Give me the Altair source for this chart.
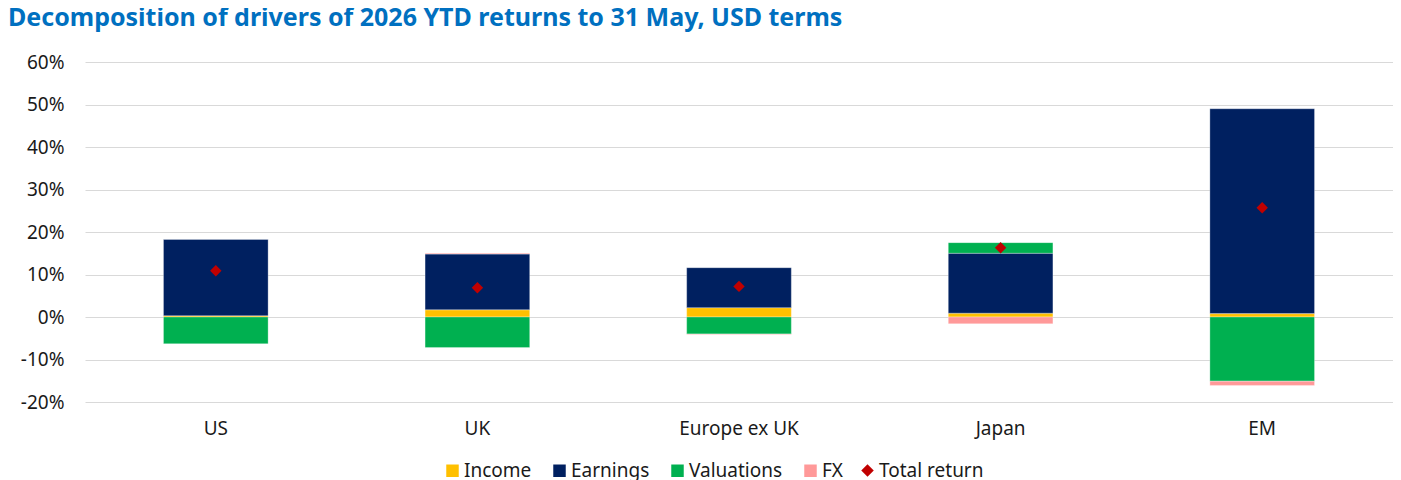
import altair as alt
import pandas as pd

regions = ["US", "UK", "Europe ex UK", "Japan", "EM"]
components = ["Income", "Earnings", "Valuations", "FX"]
income = [0.3, 1.7, 2.2, 0.9, 0.8]
earnings = [18.0, 13.1, 9.4, 14.1, 48.2]
valuations = [-6.3, -7.2, -4.0, 2.5, -15.1]
fx = [0.0, 0.2, -0.1, -1.6, -1.0]
total_return = [10.9, 6.9, 7.2, 16.3, 25.7]

colors = ["#ffc000", "#002060", "#00b050", "#ff9999"]
total_color = "#c00000"

rows = []
for i, region in enumerate(regions):
    for j, (name, vals) in enumerate(zip(components, [income, earnings, valuations, fx])):
        rows.append({"region": region, "component": name, "value": vals[i], "idx": j})
bars_df = pd.DataFrame(rows)
total_df = pd.DataFrame({"region": regions, "component": "Total return", "value": total_return})

font = "Noto Sans"
text_color = "#1a1a1a"
legend_style = dict(
    title=None,
    orient="none",
    legendY=399,
    direction="horizontal",
    symbolSize=156,
    symbolStrokeWidth=0,
    labelFontSize=19,
    labelFont=font,
    labelColor=text_color,
    labelOffset=2,
    columnPadding=18,
)

x = alt.X(
    "region:N",
    sort=regions,
    title=None,
    scale=alt.Scale(paddingInner=0.6, paddingOuter=0.3),
    axis=alt.Axis(labelAngle=0, ticks=False, domain=False, labelFontSize=19, labelFont=font,
                  labelColor=text_color, labelPadding=17),
)

y_scale = alt.Scale(domain=[-20, 60], nice=False)
y_axis = alt.Axis(values=list(range(-20, 61, 10)), labelExpr="datum.value + '%'", ticks=False,
                  domain=False, gridColor="#d9d9d9", gridWidth=1.2, labelFontSize=19, labelFont=font,
                  labelColor=text_color, labelPadding=21)

bars = (
    alt.Chart(bars_df)
    .mark_bar(stroke="#ffffff", strokeWidth=0.6, strokeOpacity=0.5)
    .encode(
        x=x,
        y=alt.Y("value:Q", stack="zero", title=None, scale=y_scale, axis=y_axis),
        color=alt.Color("component:N", scale=alt.Scale(domain=components, range=colors),
                        legend=alt.Legend(legendX=358, symbolType="square", **legend_style)),
        order=alt.Order("idx:Q"),
    )
)

points = (
    alt.Chart(total_df)
    .mark_point(filled=True, size=130, opacity=1, color=total_color)
    .encode(
        x=x,
        y=alt.Y("value:Q", title=None, scale=y_scale, axis=y_axis),
        shape=alt.Shape("component:N", scale=alt.Scale(domain=["Total return"], range=["diamond"]),
                        legend=alt.Legend(legendX=773, symbolFillColor=total_color, **legend_style)),
    )
)

chart = (
    (bars + points)
    .properties(
        width=1308,
        height=340,
        autosize=alt.AutoSizeParams(type="none"),
        padding={"left": 77, "top": 54, "right": 0, "bottom": 82},
        title=alt.TitleParams(
            "Decomposition of drivers of 2026 YTD returns to 31 May, USD terms",
            anchor="start",
            frame="group",
            dx=-77,
            offset=22,
            font=font,
            fontSize=25,
            fontWeight="bold",
            color="#0070c0",
        ),
    )
    .configure_view(stroke=None)
)

chart.save("out.html", embed_options={"renderer": "svg", "actions": False})
